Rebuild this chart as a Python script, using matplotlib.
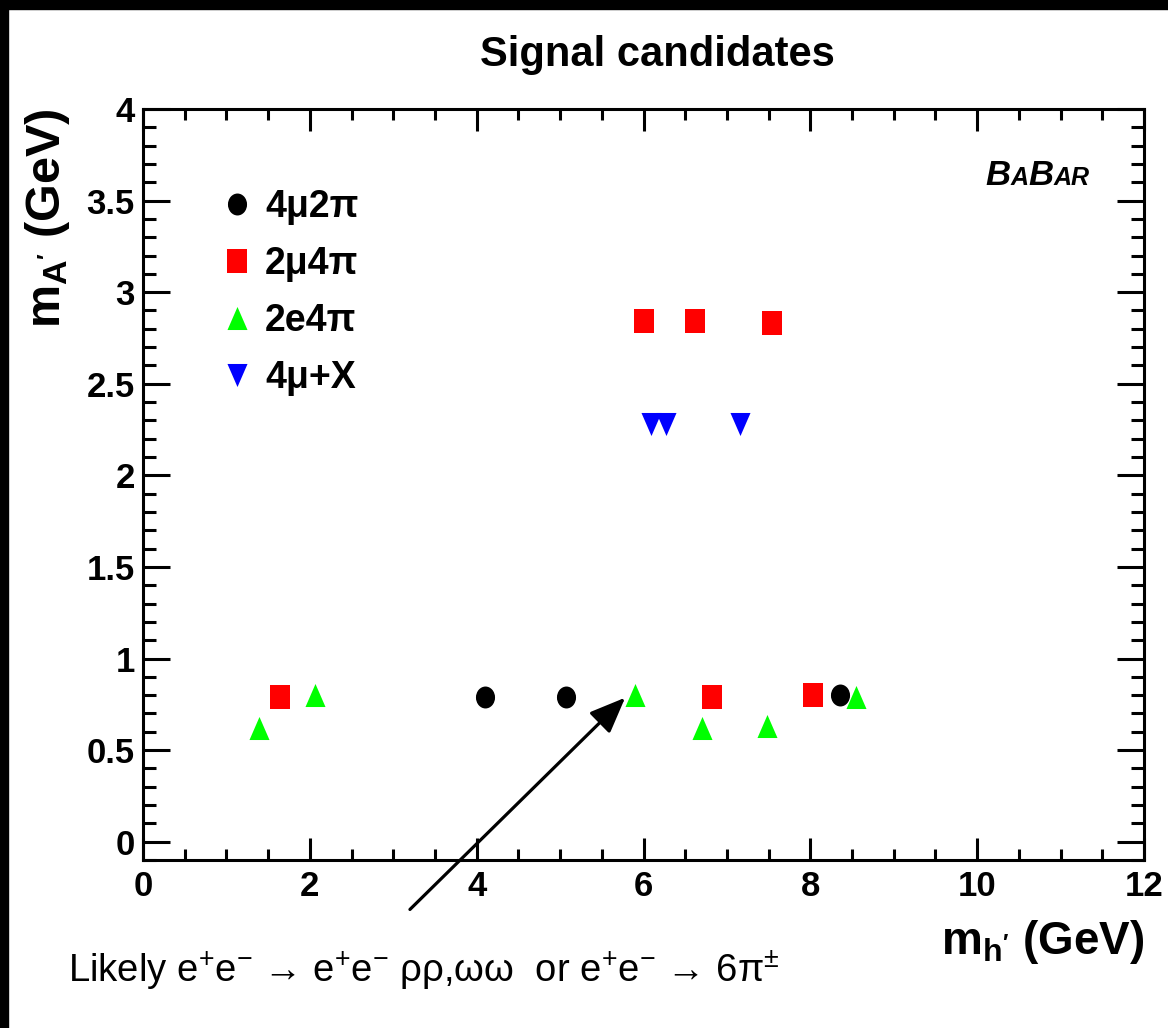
import numpy as np
import matplotlib
matplotlib.use("Agg")
import matplotlib.pyplot as plt
from matplotlib.path import Path
from matplotlib.patches import Rectangle
from matplotlib.ticker import MultipleLocator
from matplotlib.offsetbox import TextArea, HPacker, AnnotationBbox

plt.rcParams.update({
    "font.family": ["Liberation Sans", "DejaVu Sans"],
    "mathtext.fontset": "custom",
    "mathtext.rm": "Liberation Sans",
    "mathtext.it": "Liberation Sans:italic",
    "mathtext.bf": "Liberation Sans:bold",
    "mathtext.sf": "Liberation Sans",
    "mathtext.default": "regular",
})

# Candidate masses in GeV: m_h' (x) and m_A' (y) for each final state
mh_4mu2pi = [4.10, 5.07, 8.36]
mA_4mu2pi = [0.79, 0.79, 0.80]

mh_2mu4pi = [1.64, 6.01, 6.62, 7.54, 6.82, 8.03]
mA_2mu4pi = [0.79, 2.84, 2.84, 2.83, 0.79, 0.80]

mh_2e4pi = [1.39, 2.06, 5.90, 6.70, 7.48, 8.55]
mA_2e4pi = [0.62, 0.80, 0.80, 0.62, 0.63, 0.79]

mh_4muX = [6.09, 6.27, 7.16]
mA_4muX = [2.28, 2.28, 2.28]

series_labels = ["4μ2π", "2μ4π", "2e4π", "4μ+X"]

x_ticks = [0, 2, 4, 6, 8, 10, 12]
x_ticklabels = ["0", "2", "4", "6", "8", "10", "12"]
y_ticks = [0, 0.5, 1, 1.5, 2, 2.5, 3, 3.5, 4]
y_ticklabels = ["0", "0.5", "1", "1.5", "2", "2.5", "3", "3.5", "4"]

W, H = 1168, 1028
fig = plt.figure(figsize=(W / 100, H / 100), dpi=100)
ax = fig.add_axes([143 / W, 1 - 860 / H, (1144 - 143) / W, (860 - 109) / H])

# Marker shapes, slightly taller than wide
ASPECT = 1.15


def shape(verts):
    v = np.asarray(verts, float) * np.array([1.0, ASPECT])
    codes = [Path.MOVETO] + [Path.LINETO] * (len(v) - 2) + [Path.CLOSEPOLY]
    return Path(v, codes)


uc = Path.unit_circle()
m_circle = Path(uc.vertices * np.array([1.0, ASPECT]), uc.codes)
m_square = shape([(-1, -1), (1, -1), (1, 1), (-1, 1), (-1, -1)])
m_tri_up = shape([(-1, -1), (1, -1), (0, 1), (-1, -1)])
m_tri_dn = shape([(-1, 1), (1, 1), (0, -1), (-1, 1)])

series = [
    (mh_4mu2pi, mA_4mu2pi, m_circle, "#000000", 15.8),
    (mh_2mu4pi, mA_2mu4pi, m_square, "#ff0000", 16.6),
    (mh_2e4pi, mA_2e4pi, m_tri_up, "#00ff00", 16.6),
    (mh_4muX, mA_4muX, m_tri_dn, "#0000ff", 16.6),
]
for (xs, ys, mk, col, ms), lab in zip(series, series_labels):
    ax.plot(xs, ys, ls="none", marker=mk, ms=ms, color=col, mec=col, mew=0,
            label=lab, zorder=3)

ax.set_xlim(0, 12)
ax.set_ylim(-0.1, 4)
ax.set_xticks(x_ticks, x_ticklabels, fontsize=25, fontweight="bold")
ax.set_yticks(y_ticks, y_ticklabels, fontsize=25, fontweight="bold")
ax.xaxis.set_minor_locator(MultipleLocator(0.5))
ax.yaxis.set_minor_locator(MultipleLocator(0.1))
ax.tick_params(axis="both", which="both", direction="in", top=True, right=True,
               width=2.2, color="black")
ax.tick_params(axis="x", which="major", length=16, pad=7)
ax.tick_params(axis="x", which="minor", length=8)
ax.tick_params(axis="y", which="major", length=19.5, pad=6)
ax.tick_params(axis="y", which="minor", length=9.5)
for sp in ax.spines.values():
    sp.set_linewidth(2.2)

ax.set_xlabel("m$_{h'}$ (GeV)", fontsize=33, fontweight="bold", ha="right", va="baseline")
ax.xaxis.set_label_coords(1.0, -(954 - 860) / 751)
ax.set_ylabel("m$_{A'}$ (GeV)", fontsize=35, fontweight="bold", ha="right", va="baseline")
ax.yaxis.set_label_coords((60 - 143) / 1001, 1.0)

fig.text(657 / W, 1 - 66 / H, "Signal candidates", fontsize=30, fontweight="bold",
         ha="center", va="baseline")

ax.legend(loc="upper left", bbox_to_anchor=(0.075, 0.8935), borderaxespad=0,
          borderpad=0, frameon=False, prop=dict(size=27, weight="bold"),
          handlelength=1.0, handletextpad=0.25, labelspacing=0.56, numpoints=1)

# Experiment logo with small capitals
big = dict(fontsize=25, fontweight="bold", fontstyle="italic")
small = dict(fontsize=18, fontweight="bold", fontstyle="italic")
logo = HPacker(children=[TextArea("B", textprops=big), TextArea("A", textprops=small),
                         TextArea("B", textprops=big), TextArea("AR", textprops=small)],
               align="baseline", pad=0, sep=0)
ax.add_artist(AnnotationBbox(logo, (0.946, 0.889), xycoords="axes fraction",
                             box_alignment=(1, 0), frameon=False, pad=0))

# Arrow pointing at the low-mass candidate cluster
ax.annotate("", xy=(5.78, 0.786), xytext=(3.20, -0.37), xycoords="data",
            textcoords="data", annotation_clip=False,
            arrowprops=dict(arrowstyle="-|>,head_length=1.1,head_width=0.45",
                            lw=2.3, color="black", shrinkA=0, shrinkB=0,
                            mutation_scale=20))

fig.text(68 / W, 1 - 982 / H,
         "Likely e$^{+}$e$^{-}$ → e$^{+}$e$^{-}$ ρρ,ωω  or "
         "e$^{+}$e$^{-}$ → 6π$^{\\pm}$",
         fontsize=27.5, ha="left", va="baseline")

# Black frame along the top and left edges
fig.add_artist(Rectangle((0, 1 - 9 / H), 1, 9 / H, transform=fig.transFigure,
                         color="black", zorder=10))
fig.add_artist(Rectangle((0, 0), 8 / W, 1, transform=fig.transFigure,
                         color="black", zorder=10))

fig.savefig("out.png", dpi=100)
